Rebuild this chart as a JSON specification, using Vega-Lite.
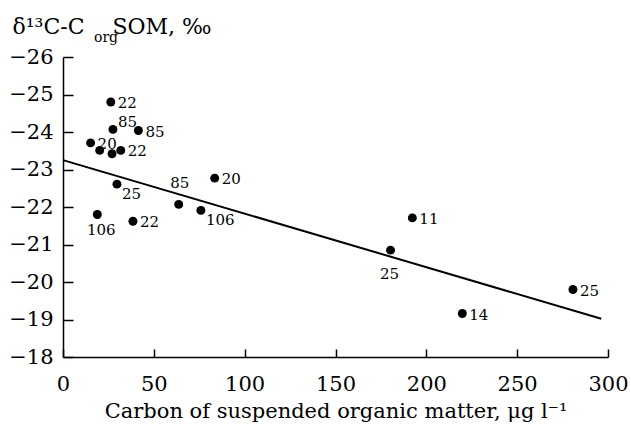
{
  "$schema": "https://vega.github.io/schema/vega-lite/v6.json",
  "width": 545,
  "height": 300,
  "autosize": "none",
  "padding": {"left": 63, "top": 57, "right": 23, "bottom": 67},
  "background": "white",
  "config": {"view": {"stroke": null}, "font": "DejaVu Serif"},
  "title": {"text": "org", "anchor": "start", "frame": "group", "fontSize": 14, "fontWeight": "normal", "font": "DejaVu Serif", "color": "black", "dx": 31, "dy": 41, "offset": 0, "baseline": "alphabetic"},
  "datasets": {
    "pts": [
      {"x": 26.3, "y": -24.80, "label": "22", "pos": "right"},
      {"x": 27.5, "y": -24.07, "label": "85", "pos": "aboveRight"},
      {"x": 41.5, "y": -24.04, "label": "85", "pos": "right"},
      {"x": 15.2, "y": -23.71, "label": "20", "pos": "right"},
      {"x": 20.2, "y": -23.51, "label": "", "pos": "none"},
      {"x": 27.0, "y": -23.42, "label": "", "pos": "none"},
      {"x": 31.8, "y": -23.51, "label": "22", "pos": "right"},
      {"x": 29.7, "y": -22.61, "label": "25", "pos": "belowRight"},
      {"x": 63.7, "y": -22.07, "label": "85", "pos": "above"},
      {"x": 83.5, "y": -22.77, "label": "20", "pos": "right"},
      {"x": 18.9, "y": -21.80, "label": "106", "pos": "below"},
      {"x": 38.5, "y": -21.62, "label": "22", "pos": "right"},
      {"x": 75.9, "y": -21.91, "label": "106", "pos": "belowRight"},
      {"x": 192.3, "y": -21.71, "label": "11", "pos": "right"},
      {"x": 180.3, "y": -20.85, "label": "25", "pos": "belowFar"},
      {"x": 280.7, "y": -19.80, "label": "25", "pos": "right"},
      {"x": 219.8, "y": -19.16, "label": "14", "pos": "right"}
    ],
    "fit": [
      {"x": 0, "y": -23.25},
      {"x": 296.3, "y": -19.02}
    ]
  },
  "resolve": {"axis": {"x": "independent", "y": "independent"}},
  "layer": [
    {
      "encoding": {
        "x": {
          "field": "x", "type": "quantitative",
          "scale": {"domain": [0, 300], "nice": false, "zero": false},
          "axis": {
            "values": [0, 50, 100, 150, 200, 250, 300],
            "title": "Carbon of suspended organic matter, μg l⁻¹",
            "grid": false, "domainColor": "black", "domainWidth": 1.5,
            "ticks": false,
            "labelFontSize": 21, "labelColor": "black", "labelPadding": 16, "labelFlush": false,
            "labelFont": "DejaVu Serif",
            "titleFont": "DejaVu Serif", "titleFontSize": 21, "titleFontWeight": "normal", "titleColor": "black", "titlePadding": 6
          }
        },
        "y": {
          "field": "y", "type": "quantitative",
          "scale": {"domain": [-26, -18], "nice": false, "zero": false, "reverse": true},
          "axis": {
            "values": [-26, -25, -24, -23, -22, -21, -20, -19, -18],
            "format": "d",
            "title": "δ¹³C-C\u00a0\u00a0\u00a0\u00a0SOM, ‰",
            "grid": false, "domainColor": "black", "domainWidth": 1.5,
            "ticks": false,
            "labelFontSize": 21, "labelColor": "black", "labelPadding": 10,
            "labelFont": "DejaVu Serif",
            "titleFont": "DejaVu Serif", "titleFontSize": 22, "titleFontWeight": "normal", "titleColor": "black",
            "titleAngle": 0, "titleAlign": "left", "titleBaseline": "alphabetic", "titleX": -51, "titleY": -24
          }
        }
      },
      "layer": [
        {"data": {"name": "fit"}, "mark": {"type": "line", "color": "black", "strokeWidth": 2}},
        {"data": {"name": "pts"}, "mark": {"type": "point", "filled": true, "color": "black", "size": 80, "opacity": 1}},
        {"data": {"name": "pts"}, "transform": [{"filter": "datum.pos === 'right'"}],
         "mark": {"type": "text", "align": "left", "baseline": "middle", "dx": 7, "dy": 1, "fontSize": 15, "color": "black"},
         "encoding": {"text": {"field": "label"}}},
        {"data": {"name": "pts"}, "transform": [{"filter": "datum.pos === 'aboveRight'"}],
         "mark": {"type": "text", "align": "left", "baseline": "middle", "dx": 5, "dy": -7, "fontSize": 15, "color": "black"},
         "encoding": {"text": {"field": "label"}}},
        {"data": {"name": "pts"}, "transform": [{"filter": "datum.pos === 'belowRight'"}],
         "mark": {"type": "text", "align": "left", "baseline": "middle", "dx": 5, "dy": 10, "fontSize": 15, "color": "black"},
         "encoding": {"text": {"field": "label"}}},
        {"data": {"name": "pts"}, "transform": [{"filter": "datum.pos === 'above'"}],
         "mark": {"type": "text", "align": "center", "baseline": "middle", "dx": 1, "dy": -21, "fontSize": 15, "color": "black"},
         "encoding": {"text": {"field": "label"}}},
        {"data": {"name": "pts"}, "transform": [{"filter": "datum.pos === 'below'"}],
         "mark": {"type": "text", "align": "center", "baseline": "middle", "dx": 4, "dy": 15, "fontSize": 15, "color": "black"},
         "encoding": {"text": {"field": "label"}}},
        {"data": {"name": "pts"}, "transform": [{"filter": "datum.pos === 'belowFar'"}],
         "mark": {"type": "text", "align": "center", "baseline": "middle", "dx": -1, "dy": 24, "fontSize": 15, "color": "black"},
         "encoding": {"text": {"field": "label"}}}
      ]
    },
    {
      "data": {"name": "fit"},
      "mark": {"type": "line", "strokeOpacity": 0},
      "encoding": {
        "x": {
          "field": "x", "type": "quantitative",
          "axis": {"orient": "top", "offset": -300, "values": [0, 50, 100, 150, 200, 250, 300], "labels": false, "domain": false, "grid": false, "title": null, "ticks": true, "tickSize": 8, "tickWidth": 1.5, "tickColor": "black"}
        },
        "y": {
          "field": "y", "type": "quantitative",
          "axis": {"orient": "right", "offset": -545, "values": [-26, -25, -24, -23, -22, -21, -20, -19, -18], "labels": false, "domain": false, "grid": false, "title": null, "ticks": true, "tickSize": 10, "tickWidth": 1.5, "tickColor": "black"}
        }
      }
    }
  ]
}
